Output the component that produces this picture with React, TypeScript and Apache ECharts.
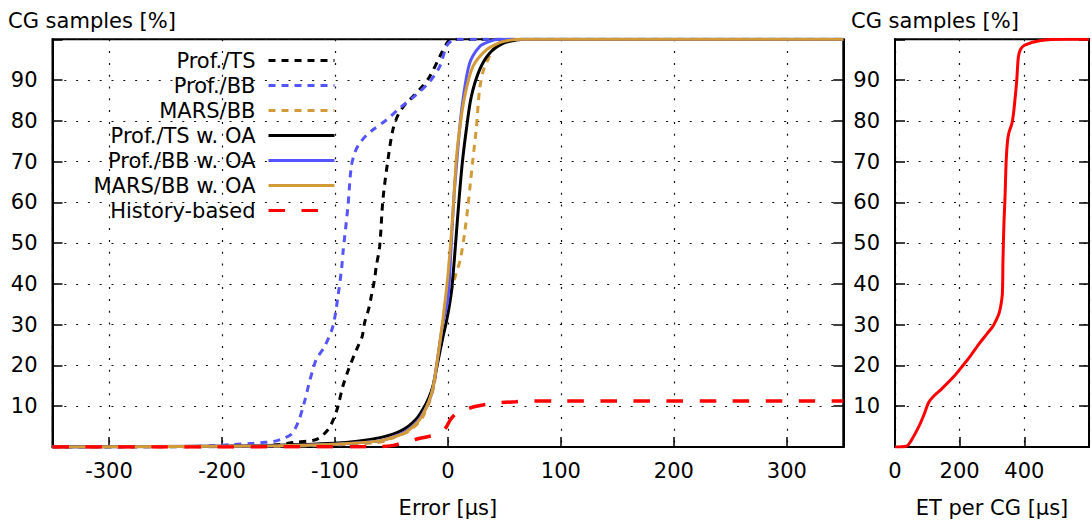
import React, { useEffect, useRef } from "react";
import * as echarts from "echarts";

const FONT = "DejaVu Sans";

// Left panel: cumulative distribution of the prediction error [µs] -> CG samples [%]
const profTs: number[][] = [
  [-350, 0], [-200, 0.1], [-160, 0.4], [-149, 0.6], [-137, 1.1], [-116, 1.9], [-106, 4.3],
  [-101, 7], [-97.3, 10], [-93, 14.9], [-88, 19], [-83, 22.5], [-79.6, 24.7], [-76, 27],
  [-73.7, 30.5], [-70, 34], [-67.8, 37], [-65, 41], [-63.4, 44.3], [-60.4, 49.2], [-57.5, 60.7],
  [-53.1, 70.4], [-48.7, 77.8], [-44, 81.5], [-38, 84], [-31.2, 85.9], [-24, 88], [-16.2, 90.8],
  [-7.3, 95.7], [0, 99.4], [5, 100], [350, 100],
];
const profBb: number[][] = [
  [-350, 0], [-230, 0.1], [-210, 0.3], [-190, 0.6], [-172, 0.9], [-160, 1.2], [-152, 1.5],
  [-145, 2.2], [-138.6, 3.1], [-132.7, 6], [-127, 11], [-123, 15.5], [-120, 18.5], [-116.5, 21.5],
  [-109, 24.7], [-101.8, 29.6], [-97.3, 37], [-94, 44], [-92.9, 47.6], [-88.5, 59], [-85.5, 68.8],
  [-82, 72.5], [-78.1, 74.5], [-72, 76.5], [-66.4, 77.8], [-54.5, 80.2], [-42.7, 83.1],
  [-28, 86.4], [-16.2, 89.6], [-7.3, 93.3], [-1.4, 98.2], [3, 99.6], [7.4, 100], [350, 100],
];
const marsBb: number[][] = [
  [-350, 0], [-150, 0.2], [-100, 0.5], [-60, 1.2], [-48, 2.3], [-34, 4.0], [-22, 7.5],
  [-13.2, 14], [-8.8, 22], [-5, 29], [-2, 35], [1.5, 36.6], [4.4, 39.8], [7.4, 42.7], [11, 46],
  [14.8, 52.5], [17.7, 59], [20, 65], [22.1, 70.5], [25.1, 78], [28, 87.6], [31, 92], [34, 94.1],
  [40, 97.5], [45.8, 98.6], [53, 99.7], [60, 100], [350, 100],
];
const profTsOa: number[][] = [
  [-350, 0], [-200, 0.2], [-150, 0.4], [-101, 0.9], [-80, 1.4], [-60, 2.3], [-48, 3.2],
  [-40, 4.2], [-34, 5.3], [-27, 7.2], [-22, 9.3], [-17, 12], [-13.2, 15], [-8.8, 21],
  [-4.4, 27], [-1.5, 30.5], [1.5, 35], [3.5, 39], [6, 47], [8.5, 56], [12.5, 69], [16.3, 77.8],
  [20.7, 85.9], [28, 92.5], [36.9, 96.6], [48.7, 99], [60, 99.8], [70, 100], [350, 100],
];
const profBbOa: number[][] = [
  [-350, 0], [-150, 0.3], [-100, 0.7], [-60, 1.5], [-48.7, 2.5], [-40, 3.4], [-33.9, 4.5],
  [-27, 6.2], [-22.1, 8.2], [-17, 11], [-13.2, 14.5], [-8.8, 22.3], [-4.4, 30.5], [0, 36.2],
  [3, 50], [5.5, 62], [8, 70.4], [10, 77], [13.3, 85.1], [19.2, 94.1], [28, 98.2], [37, 99.5],
  [45, 100], [350, 100],
];
const marsBbOa: number[][] = [
  [-350, 0], [-150, 0.3], [-100, 0.7], [-60, 1.5], [-48.7, 2.4], [-40, 3.2], [-33.9, 4.3],
  [-27, 6], [-22.1, 8], [-17, 11], [-13.2, 14.5], [-8.8, 22.3], [-5, 30], [-2.3, 36.2],
  [0, 42], [3, 52], [5.5, 62], [7.4, 70.4], [10.3, 77.8], [14.8, 85.9], [22.1, 93.3],
  [34, 97.4], [45.8, 99.2], [55, 99.8], [65, 100], [350, 100],
];
const historyBased: number[][] = [
  [-350, 0], [-60, 0.1], [-48, 0.4], [-42.7, 0.8], [-35, 1.3], [-28, 1.9], [-20, 2.4],
  [-13.5, 2.8], [-7, 3.4], [-3, 4.3], [0, 5.6], [2.5, 6.8], [6, 7.9], [10, 8.7], [16.3, 9.3],
  [25, 10], [36.9, 10.6], [47, 10.9], [60, 11.1], [75, 11.3], [100, 11.3], [350, 11.3],
];

// Right panel: cumulative distribution of execution time per CG [µs]
const etPerCg: number[][] = [
  [0, 0], [35, 0.2], [49.5, 1.5], [74.3, 5.1], [90, 8], [104, 10.9], [120, 12.5],
  [143.6, 14.2], [183.4, 17.4], [210, 20], [233, 22.3], [262.7, 25.6], [285, 27.8],
  [302.5, 29.6], [315, 31.5], [322.3, 32.9], [328, 35], [332.2, 37.8], [334, 46], [337, 55],
  [340, 60.6], [344, 70.4], [348, 75], [352, 77], [361.6, 79.4], [366.7, 81.9], [372, 86],
  [376.6, 90], [381.6, 95.7], [388, 97.5], [401, 98.6], [451, 99.7], [525, 100], [600, 100],
];

const legendNames = [
  "Prof./TS", "Prof./BB", "MARS/BB", "Prof./TS w. OA", "Prof./BB w. OA", "MARS/BB w. OA", "History-based",
];

const BLACK = "#000000";
const BLUE = "#5555ff";
const GOLD = "#d39a38";
const RED = "#ff0000";
const DOT = [7, 6];
const DASH = [16.5, 16.5];

const textBase = { fontFamily: FONT, fontSize: 21, color: "#000" };

export default function App() {
  const ref = useRef<HTMLDivElement>(null);
  useEffect(() => {
    const chart = echarts.init(ref.current!, null, { renderer: "svg" });
    const mk = (name: string, data: number[][], color: string, dash: any, width: number) => ({
      type: "line",
      name,
      data,
      xAxisIndex: 0,
      yAxisIndex: 0,
      symbol: "none",
      showSymbol: false,
      smooth: 0.3,
      clip: true,
      lineStyle: { color, width, type: dash, cap: "butt" },
      itemStyle: { color },
    });
    const splitLine = { show: true, lineStyle: { color: "#111", width: 1.2, type: [2, 9.8] } };
    const yLeft = (gridIndex: number) => ({
      type: "value",
      gridIndex,
      min: 0,
      max: 100,
      interval: 10,
      axisLine: { show: true, onZero: false, lineStyle: { color: "#000", width: 2 } },
      axisTick: { show: true, inside: true, length: 10, lineStyle: { color: "#000", width: 1.5 } },
      axisLabel: {
        ...textBase,
        margin: 15,
        formatter: (v: number) => (v === 0 || v === 100 ? "" : String(v)),
      },
      splitLine,
    });
    const yRight = (gridIndex: number) => ({
      type: "value",
      gridIndex,
      position: "right",
      min: 0,
      max: 100,
      interval: 10,
      axisLine: { show: true, onZero: false, lineStyle: { color: "#000", width: 2 } },
      axisTick: { show: true, inside: true, length: 10, lineStyle: { color: "#000", width: 1.5 } },
      axisLabel: { show: false },
      splitLine: { show: false },
    });
    const option = {
      animation: false,
      backgroundColor: "#ffffff",
      title: [
        { text: "CG samples [%]", left: 8, top: 10, padding: 0, textStyle: { ...textBase, fontWeight: "normal" } },
        { text: "CG samples [%]", left: 851, top: 10, padding: 0, textStyle: { ...textBase, fontWeight: "normal" } },
      ],
      legend: {
        data: legendNames,
        orient: "vertical",
        align: "right",
        right: 756,
        top: 50,
        padding: 0,
        itemGap: 4,
        itemWidth: 66,
        itemHeight: 14,
        selectedMode: false,
        itemStyle: { opacity: 0 },
        lineStyle: { width: 3 },
        textStyle: { ...textBase, lineHeight: 21, padding: [0, 8, 0, 0] },
      },
      grid: [
        { left: 52.5, right: 248.7, top: 39.3, bottom: 75.3, show: true, borderColor: "#000", borderWidth: 2, backgroundColor: "transparent" },
        { left: 895, right: -5, top: 39.3, bottom: 75.3, show: true, borderColor: "#000", borderWidth: 2, backgroundColor: "transparent" },
      ],
      xAxis: [
        {
          type: "value",
          gridIndex: 0,
          min: -350,
          max: 350,
          splitNumber: 7,
          name: "Error [µs]",
          nameLocation: "middle",
          nameGap: 50,
          nameTextStyle: textBase,
          axisLine: { show: true, onZero: false, lineStyle: { color: "#000", width: 2 } },
          axisTick: { show: true, inside: true, length: 10, lineStyle: { color: "#000", width: 1.5 } },
          axisLabel: {
            ...textBase,
            margin: 13,
            showMinLabel: false,
            showMaxLabel: false,
            formatter: (v: number) => (Math.abs(v) === 350 ? "" : String(v)),
          },
          splitLine,
        },
        {
          type: "value",
          gridIndex: 1,
          min: 0,
          max: 600,
          interval: 200,
          name: "ET per CG [µs]",
          nameLocation: "middle",
          nameGap: 50,
          nameTextStyle: textBase,
          axisLine: { show: true, onZero: false, lineStyle: { color: "#000", width: 2 } },
          axisTick: { show: true, inside: true, length: 10, lineStyle: { color: "#000", width: 1.5 } },
          axisLabel: {
            ...textBase,
            margin: 13,
            formatter: (v: number) => (v >= 600 ? "" : String(v)),
          },
          splitLine,
        },
      ],
      yAxis: [yLeft(0), yRight(0), yLeft(1), yRight(1)],
      series: [
        mk(legendNames[0], profTs, BLACK, DOT, 3),
        mk(legendNames[1], profBb, BLUE, DOT, 3),
        mk(legendNames[2], marsBb, GOLD, DOT, 3),
        mk(legendNames[3], profTsOa, BLACK, "solid", 3),
        mk(legendNames[4], profBbOa, BLUE, "solid", 3),
        mk(legendNames[5], marsBbOa, GOLD, "solid", 3),
        mk(legendNames[6], historyBased, RED, DASH, 3.5),
        {
          ...mk("ET per CG", etPerCg, RED, "solid", 3),
          xAxisIndex: 1,
          yAxisIndex: 2,
        },
      ],
    };
    chart.setOption(option as any);
    return () => chart.dispose();
  }, []);
  return (
    <div
      ref={ref}
      style={{ position: "fixed", left: 0, top: 0, width: 1092, height: 523, background: "#fff" }}
    />
  );
}
